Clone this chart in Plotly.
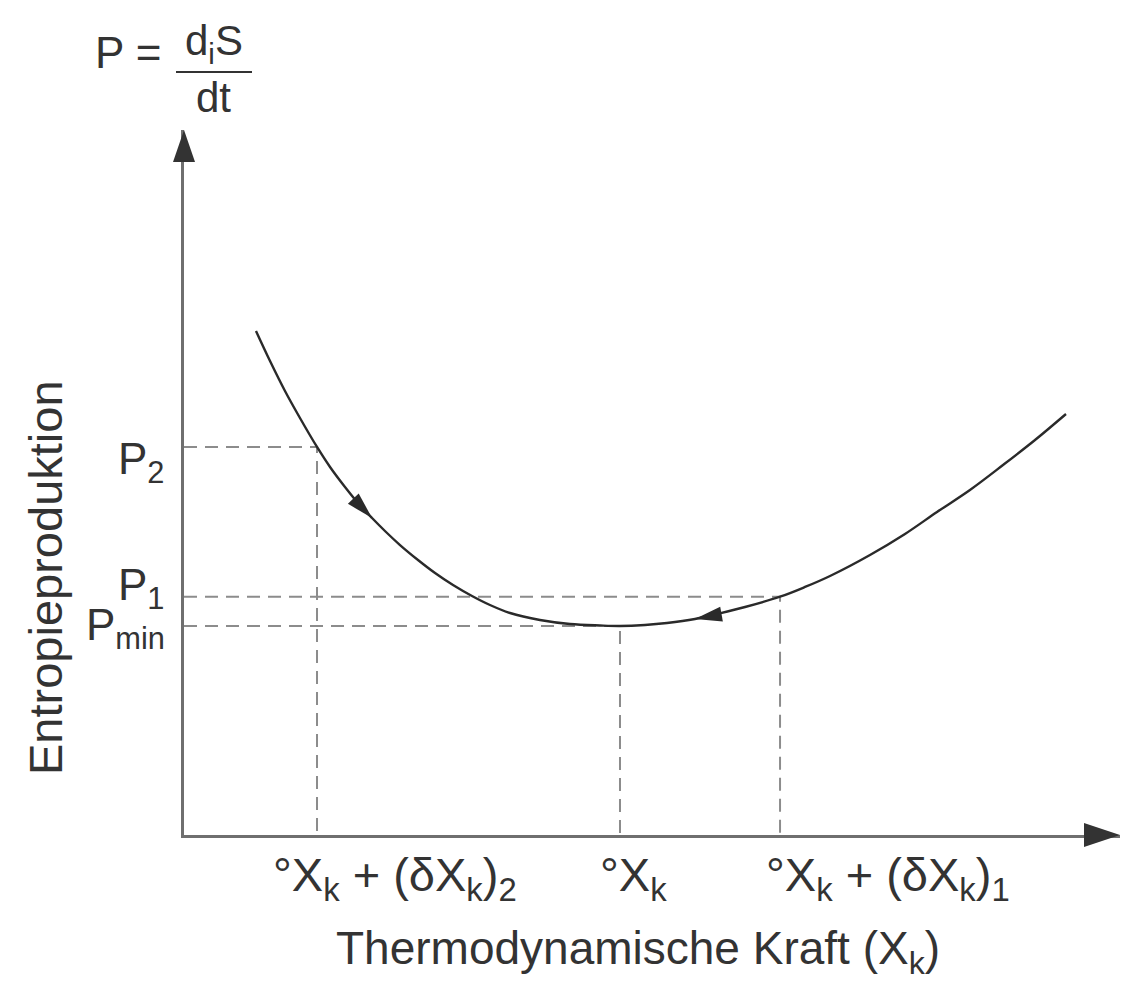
import math
import plotly.graph_objects as go

# ---------------- data (arbitrary units) ----------------
curve_x = [0.769, 0.919, 1.079, 1.239, 1.421, 1.560, 1.720, 1.859, 2.009, 2.158,
           2.308, 2.500, 2.682, 2.874, 3.077, 3.269, 3.483, 3.803, 4.124, 4.444,
           4.658, 4.925, 5.160, 5.459, 5.694, 5.994, 6.368, 6.635, 6.902, 7.329,
           7.703, 8.045, 8.397, 8.750, 9.092, 9.423]
curve_y = [7.149, 6.723, 6.298, 5.915, 5.504, 5.220, 4.936, 4.709, 4.496, 4.298,
           4.113, 3.901, 3.716, 3.546, 3.390, 3.262, 3.149, 3.050, 2.993, 2.972,
           2.965, 2.979, 3.007, 3.064, 3.135, 3.234, 3.380, 3.518, 3.674, 3.972,
           4.270, 4.582, 4.894, 5.248, 5.603, 5.972]

force_x = [1.421, 4.658, 6.368]
force_labels = ["°X<sub>k</sub> + (δX<sub>k</sub>)<sub>2</sub>",
                "°X<sub>k</sub>",
                "°X<sub>k</sub> + (δX<sub>k</sub>)<sub>1</sub>"]
prod_y = [5.504, 2.965, 3.380]
prod_labels = ["P<sub>2</sub>", "P<sub>min</sub>", "P<sub>1</sub>"]

x_title = "Thermodynamische Kraft (X<sub>k</sub>)"
y_title = "Entropieproduktion"
formula_left = "P ="
formula_num = "d<sub>i</sub>S"
formula_den = "dt"

# ---------------- layout constants ----------------
OFF = 8                      # default body margin of the page
PAGE_W, PAGE_H = 1131, 992
L_PX, R_PX, T_PX, B_PX = 184, 1120, 130, 835   # plot area in page pixels
X_RANGE = [0, 10]
Y_RANGE = [0, 10]
SX = (R_PX - L_PX) / (X_RANGE[1] - X_RANGE[0])
SY = (B_PX - T_PX) / (Y_RANGE[1] - Y_RANGE[0])

FONT = "Liberation Sans, Arial, Helvetica, sans-serif"
TXT = "#333333"
AXC = "#6f6f6f"
DASHC = "#8c8c8c"


def paper(px, py):
    return (px - L_PX) / (R_PX - L_PX), (B_PX - py) / (B_PX - T_PX)


fig = go.Figure()

# dashed guide lines
for fx, pv in zip(force_x, prod_y):
    fig.add_trace(go.Scatter(x=[X_RANGE[0], fx, fx], y=[pv, pv, Y_RANGE[0]],
                             mode="lines", hoverinfo="skip",
                             line=dict(color=DASHC, width=2, dash="13px,8px")))

# curve
fig.add_trace(go.Scatter(x=curve_x, y=curve_y, mode="lines", hoverinfo="skip",
                         line=dict(color="#2a2a2a", width=2.4, shape="spline",
                                   smoothing=1.0)))

shapes = []
# axis arrowheads
shapes.append(dict(type="path", xref="paper", yref="paper", xsizemode="pixel",
                   ysizemode="pixel", xanchor=1, yanchor=0,
                   path="M0,0 L-36,12 L-36,-12 Z", fillcolor="#333333",
                   line=dict(width=0)))
shapes.append(dict(type="path", xref="paper", yref="paper", xsizemode="pixel",
                   ysizemode="pixel", xanchor=0, yanchor=1,
                   path="M0,0 L-11,-32 L11,-32 Z", fillcolor="#333333",
                   line=dict(width=0)))


def curve_arrow(tip, frm, to, length=27, half=7.5):
    dx = (curve_x[to] - curve_x[frm]) * SX
    dy = (curve_y[to] - curve_y[frm]) * SY
    n = math.hypot(dx, dy)
    ux, uy = dx / n, dy / n
    bx, by = -length * ux, -length * uy
    p1 = (bx - half * uy, by + half * ux)
    p2 = (bx + half * uy, by - half * ux)
    return dict(type="path", xref="x", yref="y", xsizemode="pixel",
                ysizemode="pixel", xanchor=curve_x[tip], yanchor=curve_y[tip],
                path=f"M0,0 L{p1[0]:.2f},{p1[1]:.2f} L{p2[0]:.2f},{p2[1]:.2f} Z",
                fillcolor="#2a2a2a", line=dict(width=0))


shapes.append(curve_arrow(8, 7, 9))
shapes.append(curve_arrow(23, 24, 22))

# fraction bar of the formula
BAR_Y = 72
fx0, fy0 = paper(176, BAR_Y)
fx1, _ = paper(252, BAR_Y)
shapes.append(dict(type="line", xref="paper", yref="paper", x0=fx0, x1=fx1,
                   y0=fy0, y1=fy0, line=dict(color=TXT, width=2)))

ann = []
# x tick labels
x_shift = [-46, -22, -16]
for fx, lab, s in zip(force_x, force_labels, x_shift):
    ann.append(dict(x=fx, y=Y_RANGE[0], xref="x", yref="y", text=lab,
                    showarrow=False, xanchor="left", yanchor="middle",
                    xshift=s, yshift=-43, font=dict(size=47, color=TXT, family=FONT)))
# y tick labels
y_shift = [-15, -2, 9]
for pv, lab, s in zip(prod_y, prod_labels, y_shift):
    ann.append(dict(x=X_RANGE[0], y=pv, xref="x", yref="y", text=lab,
                    showarrow=False, xanchor="right", yanchor="middle",
                    xshift=-17, yshift=s, font=dict(size=44, color=TXT, family=FONT)))

# titles
ax_, ay_ = paper(638, 952)
ann.append(dict(x=ax_, y=ay_, xref="paper", yref="paper", text=x_title,
                showarrow=False, xanchor="center", yanchor="middle",
                font=dict(size=46, color=TXT, family=FONT)))
ax_, ay_ = paper(45, 578)
ann.append(dict(x=ax_, y=ay_, xref="paper", yref="paper", text=y_title,
                showarrow=False, xanchor="center", yanchor="middle", textangle=-90,
                font=dict(size=47, color=TXT, family=FONT)))
# formula
ax_, ay_ = paper(128, 52)
ann.append(dict(x=ax_, y=ay_, xref="paper", yref="paper", text=formula_left,
                showarrow=False, xanchor="center", yanchor="middle",
                font=dict(size=44, color=TXT, family=FONT)))
ax_, ay_ = paper(214, BAR_Y)
ann.append(dict(x=ax_, y=ay_, xref="paper", yref="paper", text=formula_num,
                showarrow=False, xanchor="center", yanchor="bottom", yshift=1,
                borderpad=0, font=dict(size=42, color=TXT, family=FONT)))
ax_, ay_ = paper(213, BAR_Y)
ann.append(dict(x=ax_, y=ay_, xref="paper", yref="paper", text=formula_den,
                showarrow=False, xanchor="center", yanchor="top", yshift=-1,
                borderpad=0, font=dict(size=42, color=TXT, family=FONT)))

axis_common = dict(showline=True, linecolor=AXC, linewidth=2.5, showgrid=False,
                   zeroline=False, showticklabels=False, ticks="", fixedrange=True)

fig.update_layout(
    width=PAGE_W - 2 * OFF, height=PAGE_H - 2 * OFF,
    margin=dict(l=L_PX - OFF, r=PAGE_W - OFF - R_PX, t=T_PX - OFF,
                b=PAGE_H - OFF - B_PX, pad=0),
    paper_bgcolor="white", plot_bgcolor="white", showlegend=False,
    xaxis=dict(range=X_RANGE, **axis_common),
    yaxis=dict(range=Y_RANGE, **axis_common),
    shapes=shapes, annotations=ann,
)

fig.write_html("out.html")
